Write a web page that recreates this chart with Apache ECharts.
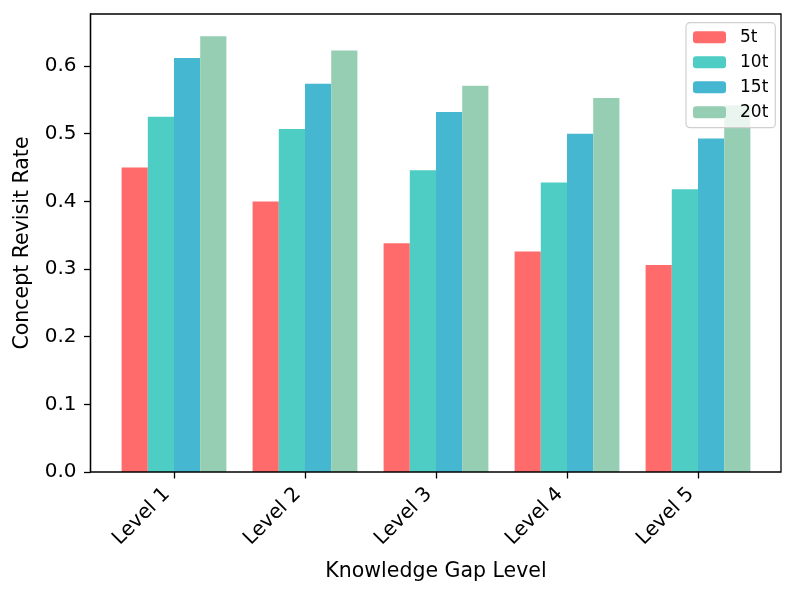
<!DOCTYPE html>
<html>
<head>
<meta charset="utf-8">
<script src="https://cdn.jsdelivr.net/npm/echarts@6/dist/echarts.min.js"></script>
<style>html,body{margin:0;padding:0;background:#fff;}#c{width:797px;height:597px;}</style>
</head>
<body>
<div id="c"></div>
<script>
const categories = ['Level 1', 'Level 2', 'Level 3', 'Level 4', 'Level 5'];
const seriesNames = ['5t', '10t', '15t', '20t'];
const values5t  = [0.450, 0.400, 0.338, 0.326, 0.306];
const values10t = [0.525, 0.507, 0.446, 0.428, 0.418];
const values15t = [0.612, 0.574, 0.532, 0.500, 0.493];
const values20t = [0.644, 0.623, 0.571, 0.553, 0.542];
const yTicks = [0, 0.1, 0.2, 0.3, 0.4, 0.5, 0.6];
const yMax = 0.677;
const colors = ['#FF6B6B', '#4ECDC4', '#45B7D1', '#96CEB4'];

const font = 'DejaVu Sans';
const chart = echarts.init(document.getElementById('c'), null, {renderer: 'canvas'});
const allValues = [values5t, values10t, values15t, values20t];

chart.setOption({
  animation: false,
  textStyle: {fontFamily: font},
  color: colors,
  grid: [
    {left: 90.5, top: 14, right: 16, bottom: 125, show: true, borderColor: '#000', borderWidth: 1.3, backgroundColor: 'transparent', z: 5},
    {left: 108.5, top: 14, width: 655, bottom: 125}
  ],
  xAxis: [
    {gridIndex: 0, type: 'value', min: 0, max: 1, show: false},
    {gridIndex: 1, type: 'category', data: categories,
     axisLine: {show: false},
     axisTick: {show: true, alignWithLabel: true, length: 6.5, lineStyle: {color: '#000', width: 1.3}},
     axisLabel: {rotate: 45, color: '#000', fontSize: 20, fontFamily: font, margin: 12, padding: [0, 10, 0, 0]},
     name: 'Knowledge Gap Level', nameLocation: 'middle', nameGap: 89,
     nameTextStyle: {color: '#000', fontSize: 20.5, fontFamily: font}
    }
  ],
  yAxis: [
    {gridIndex: 0, type: 'value', min: 0, max: yMax,
     axisLine: {show: true, lineStyle: {color: '#000', width: 1.3}},
     axisTick: {show: true, length: 6.5, customValues: yTicks, lineStyle: {color: '#000', width: 1.3}},
     axisLabel: {customValues: yTicks, color: '#000', fontSize: 20, fontFamily: font, margin: 14,
                 formatter: v => v.toFixed(1)},
     splitLine: {show: false},
     name: 'Concept Revisit Rate', nameLocation: 'middle', nameGap: 57,
     nameTextStyle: {color: '#000', fontSize: 20.5, fontFamily: font}
    },
    {gridIndex: 1, type: 'value', min: 0, max: yMax, show: false, splitLine: {show: false}}
  ],
  legend: {
    orient: 'vertical', left: 686, top: 22.7,
    data: seriesNames,
    itemWidth: 33, itemHeight: 12, itemGap: 8,
    padding: [6, 7, 7, 7],
    backgroundColor: 'rgba(255,255,255,0.8)',
    borderColor: '#d0d0d0', borderWidth: 1.2, borderRadius: 4,
    textStyle: {color: '#000', fontSize: 17, fontFamily: font, padding: [0, 0, 0, 9]},
    itemStyle: {borderWidth: 0},
    z: 10
  },
  series: seriesNames.map((n, i) => ({
    name: n, type: 'bar', xAxisIndex: 1, yAxisIndex: 1,
    data: allValues[i],
    barGap: '0%', barCategoryGap: '20%',
    itemStyle: {color: colors[i]}
  }))
});
</script>
</body>
</html>
